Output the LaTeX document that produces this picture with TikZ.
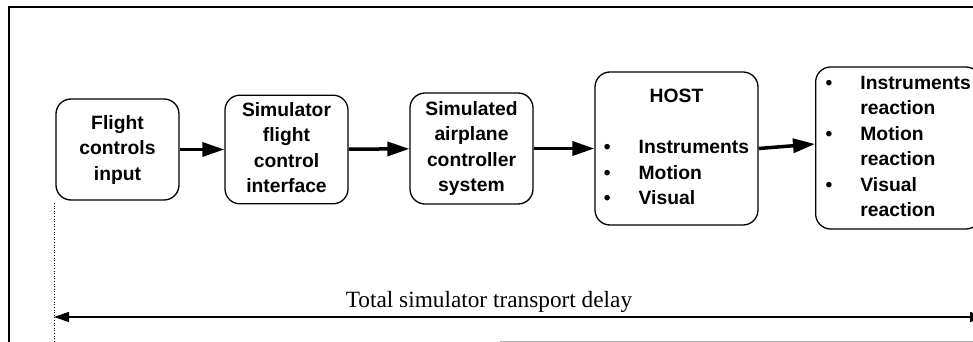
\documentclass[tikz,border=0pt]{standalone}
\usepackage{fontspec}
\setmainfont{Liberation Serif}
\newfontfamily\boxfont{Liberation Sans}
\usepackage{xcolor}
\usetikzlibrary{arrows.meta}

\begin{document}
\begin{tikzpicture}[x=1pt,y=-1pt,
		blk/.style={draw,rounded corners=15pt,line width=1.3pt,minimum width=123pt,
			font=\boxfont\bfseries\fontsize{19.3}{25.5}\selectfont},
		flow/.style={-{Triangle[length=22pt,width=14pt]},line width=3.5pt},
		span/.style={{Triangle[length=15pt,width=10pt]}-{Triangle[length=15pt,width=10pt]},line width=1.2pt}]
				\useasboundingbox (0,0) rectangle (973,342);
				\clip (0,0) rectangle (973,342);
				% frame
				\draw[line width=2pt] (9,345) -- (9,7) -- (980,7);
				\draw[gray!60, line width=1pt] (500,341) -- (980,341);
				% blocks
				\node (fci) [blk, minimum height=101pt] at (117.5,149.5)
					{\begin{tabular}{@{}c@{}}Flight\\controls\\input\end{tabular}};
				\node (sfci) [blk, minimum height=107pt] at (286.5,149.5)
					{\begin{tabular}{@{}c@{}}Simulator\\flight\\control\\interface\end{tabular}};
				\node (sacs) [blk, minimum height=111pt] at (471.5,148.5)
					{\begin{tabular}{@{}c@{}}Simulated\\airplane\\controller\\system\end{tabular}};
				\node (host) [blk, minimum width=163pt, minimum height=153pt] at (676.5,148.5)
					{\begin{tabular}{@{}l@{\hspace{28pt}}l@{}}\multicolumn{2}{c}{HOST}\\ \\
					\textbullet & Instruments\\ \textbullet & Motion\\ \textbullet & Visual\end{tabular}};
				\node (react) [blk, anchor=west, inner xsep=10pt, inner ysep=2pt, minimum height=162pt] at (815,148)
					{\begin{tabular}{@{}l@{\hspace{28pt}}l@{}}\textbullet & Instruments\\ & reaction\\
					\textbullet & Motion\\ & reaction\\ \textbullet & Visual\\ & reaction\end{tabular}};
				\draw[flow] (fci) -- (sfci);
				\draw[flow] (sfci) -- (sacs);
				\draw[flow] (sacs) -- (host);
				\draw[flow] (host.east) -- ([yshift=4pt]react.west);
				% delay
				\coordinate (dt) at (54,203);
				\coordinate (db) at (54,342);
				\coordinate (dl) at (54,317);
				\coordinate (dr) at (985,317);
				\draw[dotted, line width=0.6pt] (dt) -- (db);
				\draw[span] (dl) -- (dr);
				\node (lbl) [anchor=base, font=\fontsize{23.3}{28}\selectfont] at (489,307) {Total simulator transport delay};
			\end{tikzpicture}
\end{document}
